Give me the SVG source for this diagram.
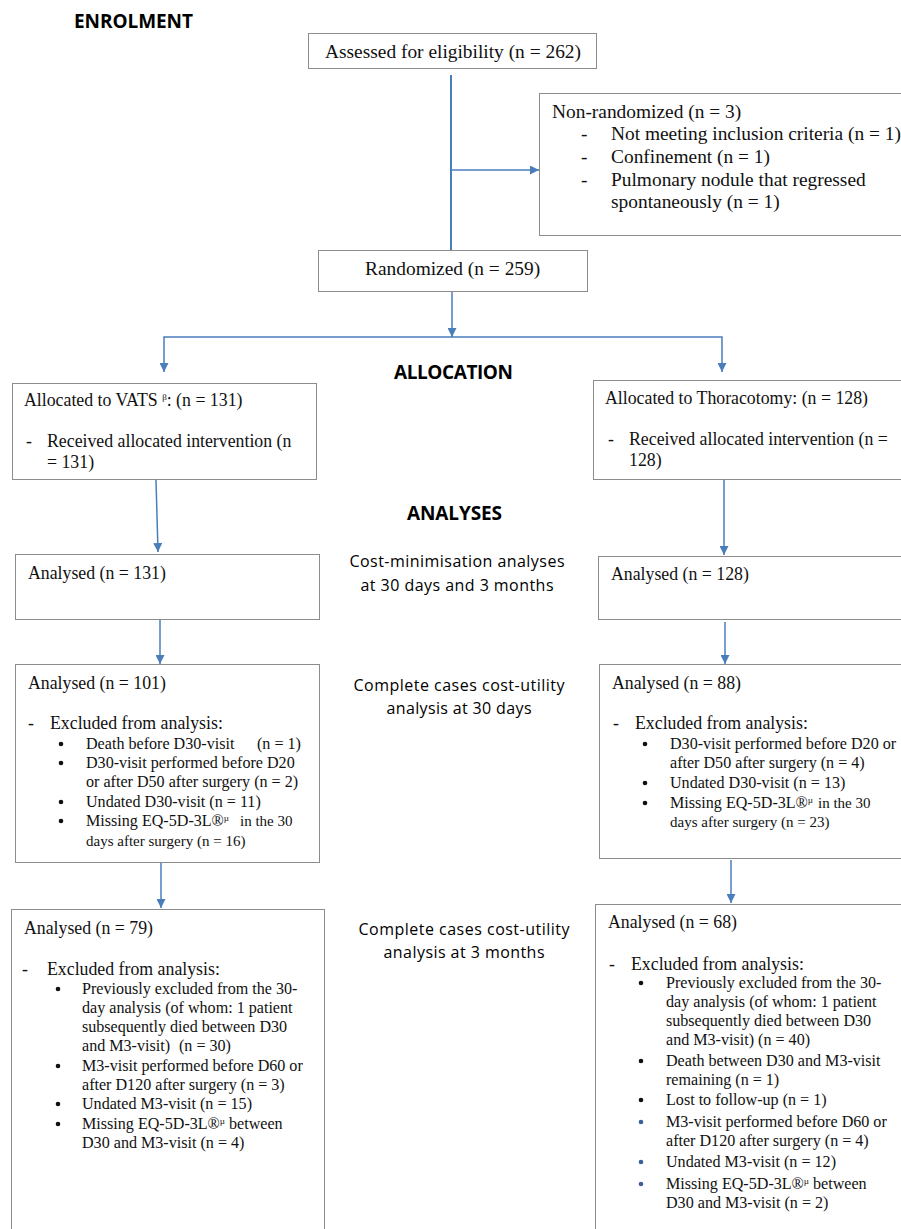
<svg xmlns="http://www.w3.org/2000/svg" width="901" height="1229" viewBox="0 0 901 1229">
<style>
.box{fill:#fff;stroke:#8c8c8c;stroke-width:1}
.tl{font-family:"Liberation Serif","Times New Roman",serif;font-size:19.4px;fill:#111}
.t{font-family:"Liberation Serif","Times New Roman",serif;font-size:17.8px;fill:#111}
.s{font-family:"Liberation Serif","Times New Roman",serif;font-size:16.1px;fill:#111}
.xs{font-family:"Liberation Serif","Times New Roman",serif;font-size:15px;fill:#111}
.h{font-family:"Open Sans","Liberation Sans",sans-serif;font-weight:bold;font-size:19px;fill:#000}
.c{font-family:"Open Sans","Liberation Sans",sans-serif;font-size:16px;fill:#000;text-anchor:middle}
.ln{fill:none;stroke:#4a7ebb;stroke-width:1.5}
.bl{fill:#111}
.bb{fill:#3a5f9a}
.sup{font-size:9px}
</style>
<defs>
<marker id="ahb" viewBox="0 0 10 10" refX="10" refY="5" markerWidth="9" markerHeight="9" markerUnits="userSpaceOnUse" orient="auto">
<path d="M0,0 L10,5 L0,10 z" fill="#4a7ebb"/>
</marker>
</defs>

<g id="labels">
<text class="h" x="74" y="28" textLength="119">ENROLMENT</text>
<text class="h" x="394" y="379" textLength="119">ALLOCATION</text>
<text class="h" x="407" y="520" textLength="95">ANALYSES</text>
<text class="c" x="457" y="567" textLength="215">Cost-minimisation analyses</text>
<text class="c" x="457" y="591" textLength="193">at 30 days and 3 months</text>
<text class="c" x="459" y="691" textLength="211">Complete cases cost-utility</text>
<text class="c" x="459" y="714" textLength="145">analysis at 30 days</text>
<text class="c" x="464" y="935" textLength="211">Complete cases cost-utility</text>
<text class="c" x="464" y="958" textLength="161">analysis at 3 months</text>
</g>

<g id="connectors">
<line x1="451" y1="75" x2="451" y2="251" stroke="#4a7ebb" stroke-width="2"/>
<path class="ln" d="M451,170 H539" marker-end="url(#ahb)"/>
<path class="ln" d="M452,291 V337" marker-end="url(#ahb)"/>
<path class="ln" d="M452,337 H164 V372" marker-end="url(#ahb)"/>
<path class="ln" d="M452,337 H722 V372" marker-end="url(#ahb)"/>
<path class="ln" d="M156,480 L158,552" marker-end="url(#ahb)"/>
<path class="ln" d="M724,480 V555" marker-end="url(#ahb)"/>
<path class="ln" d="M160,619 V664" marker-end="url(#ahb)"/>
<path class="ln" d="M725,622 V664" marker-end="url(#ahb)"/>
<path class="ln" d="M161,862 V908" marker-end="url(#ahb)"/>
<path class="ln" d="M731,860 V903" marker-end="url(#ahb)"/>
</g>

<g id="assessed">
<rect class="box" x="308.5" y="33.5" width="288" height="35"/>
<text class="tl" x="325" y="58">Assessed for eligibility (n = 262)</text>
</g>

<g id="nonrandomized">
<rect class="box" x="539.5" y="93.5" width="380" height="142"/>
<text class="tl" x="552" y="118">Non-randomized (n = 3)</text>
<text class="tl" x="581" y="140">-</text><text class="tl" x="611" y="140">Not meeting inclusion criteria (n = 1)</text>
<text class="tl" x="581" y="163">-</text><text class="tl" x="611" y="163">Confinement (n = 1)</text>
<text class="tl" x="581" y="186">-</text><text class="tl" x="611" y="186">Pulmonary nodule that regressed</text>
<text class="tl" x="611" y="208">spontaneously (n = 1)</text>
</g>

<g id="randomized">
<rect class="box" x="318.5" y="250.5" width="269" height="41"/>
<text class="tl" x="365" y="275">Randomized (n = 259)</text>
</g>

<g id="vats">
<rect class="box" x="12.5" y="383.5" width="304" height="96"/>
<text class="t" x="24" y="406">Allocated to VATS <tspan class="sup" dy="-6">β</tspan><tspan dy="6">: (n = 131)</tspan></text>
<text class="t" x="26" y="447">-</text><text class="t" x="47" y="447">Received allocated intervention (n</text>
<text class="t" x="47" y="468">= 131)</text>
</g>

<g id="thoracotomy">
<rect class="box" x="593.5" y="380.5" width="320" height="99"/>
<text class="t" x="605" y="404">Allocated to Thoracotomy: (n = 128)</text>
<text class="t" x="608" y="445">-</text><text class="t" x="629" y="445">Received allocated intervention (n =</text>
<text class="t" x="629" y="466">128)</text>
</g>

<g id="analysed131">
<rect class="box" x="15.5" y="554.5" width="304" height="65"/>
<text class="t" x="28" y="579">Analysed (n = 131)</text>
</g>

<g id="analysed128">
<rect class="box" x="598.5" y="556.5" width="320" height="63"/>
<text class="t" x="611" y="580">Analysed (n = 128)</text>
</g>

<g id="analysed101">
<rect class="box" x="15.5" y="664.5" width="304" height="198"/>
<text class="t" x="28" y="689">Analysed (n = 101)</text>
<text class="t" x="28" y="729">-</text><text class="t" x="50" y="729">Excluded from analysis:</text>
<circle class="bl" cx="61" cy="744" r="2.3"/><text class="s" x="86" y="749">Death before D30-visit</text><text class="s" x="257" y="749">(n = 1)</text>
<circle class="bl" cx="61" cy="763" r="2.3"/><text class="s" x="86" y="768">D30-visit performed before D20</text>
<text class="s" x="86" y="787">or after D50 after surgery (n = 2)</text>
<circle class="bl" cx="61" cy="802" r="2.3"/><text class="s" x="86" y="807">Undated D30-visit (n = 11)</text>
<circle class="bl" cx="61" cy="821" r="2.3"/><text class="s" x="86" y="826">Missing EQ-5D-3L®<tspan class="sup" dy="-5">µ</tspan><tspan class="xs" x="240" dy="5">in the 30</tspan></text>
<text class="xs" x="86" y="846">days after surgery (n = 16)</text>
</g>

<g id="analysed88">
<rect class="box" x="599.5" y="664.5" width="320" height="194"/>
<text class="t" x="612" y="689">Analysed (n = 88)</text>
<text class="t" x="613" y="729">-</text><text class="t" x="635" y="729">Excluded from analysis:</text>
<circle class="bl" cx="645" cy="744" r="2.3"/><text class="s" x="670" y="749">D30-visit performed before D20 or</text>
<text class="s" x="670" y="768">after D50 after surgery (n = 4)</text>
<circle class="bl" cx="645" cy="783" r="2.3"/><text class="s" x="670" y="788">Undated D30-visit (n = 13)</text>
<circle class="bl" cx="645" cy="803" r="2.3"/><text class="s" x="670" y="808">Missing EQ-5D-3L®<tspan class="sup" dy="-5">µ</tspan><tspan class="xs" x="818" dy="5">in the 30</tspan></text>
<text class="xs" x="670" y="827">days after surgery (n = 23)</text>
</g>

<g id="analysed79">
<rect class="box" x="11.5" y="909.5" width="313" height="330"/>
<text class="t" x="24" y="934">Analysed (n = 79)</text>
<text class="t" x="22" y="975">-</text><text class="t" x="47" y="975">Excluded from analysis:</text>
<circle class="bl" cx="58" cy="989" r="2.3"/><text class="s" x="82" y="994">Previously excluded from the 30-</text>
<text class="s" x="82" y="1013">day analysis (of whom: 1 patient</text>
<text class="s" x="82" y="1032">subsequently died between D30</text>
<text class="s" x="82" y="1051">and M3-visit)<tspan x="179">(n = 30)</tspan></text>
<circle class="bl" cx="58" cy="1066" r="2.3"/><text class="s" x="82" y="1071">M3-visit performed before D60 or</text>
<text class="s" x="82" y="1090">after D120 after surgery (n = 3)</text>
<circle class="bl" cx="58" cy="1104" r="2.3"/><text class="s" x="82" y="1109">Undated M3-visit (n = 15)</text>
<circle class="bl" cx="58" cy="1124" r="2.3"/><text class="s" x="82" y="1129">Missing EQ-5D-3L®<tspan class="sup" dy="-5">µ</tspan><tspan dy="5"> between</tspan></text>
<text class="s" x="82" y="1148">D30 and M3-visit (n = 4)</text>
</g>

<g id="analysed68">
<rect class="box" x="595.5" y="904.5" width="320" height="335"/>
<text class="t" x="608" y="928">Analysed (n = 68)</text>
<text class="t" x="609" y="970">-</text><text class="t" x="631" y="970">Excluded from analysis:</text>
<circle class="bl" cx="641" cy="983" r="2.3"/><text class="s" x="666" y="988">Previously excluded from the 30-</text>
<text class="s" x="666" y="1007">day analysis (of whom: 1 patient</text>
<text class="s" x="666" y="1026">subsequently died between D30</text>
<text class="s" x="666" y="1045">and M3-visit) (n = 40)</text>
<circle class="bl" cx="641" cy="1061" r="2.3"/><text class="s" x="666" y="1066">Death between D30 and M3-visit</text>
<text class="s" x="666" y="1085">remaining (n = 1)</text>
<circle class="bl" cx="641" cy="1100" r="2.3"/><text class="s" x="666" y="1105">Lost to follow-up (n = 1)</text>
<circle class="bb" cx="641" cy="1122" r="2.3"/><text class="s" x="666" y="1127">M3-visit performed before D60 or</text>
<text class="s" x="666" y="1146">after D120 after surgery (n = 4)</text>
<circle class="bb" cx="641" cy="1162" r="2.3"/><text class="s" x="666" y="1167">Undated M3-visit (n = 12)</text>
<circle class="bb" cx="641" cy="1184" r="2.3"/><text class="s" x="666" y="1189">Missing EQ-5D-3L®<tspan class="sup" dy="-5">µ</tspan><tspan dy="5"> between</tspan></text>
<text class="s" x="666" y="1208">D30 and M3-visit (n = 2)</text>
</g>
</svg>
